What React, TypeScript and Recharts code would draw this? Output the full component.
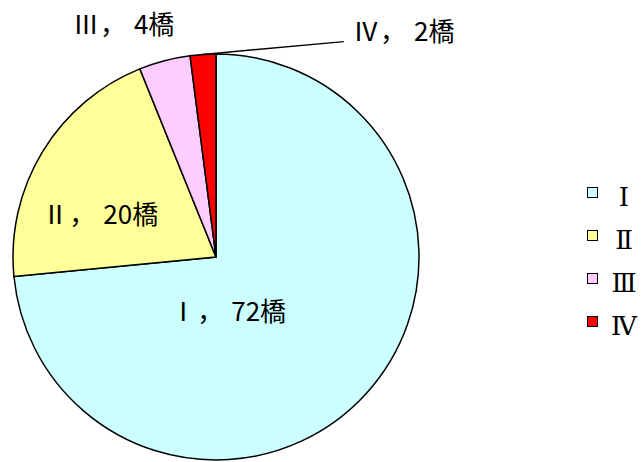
import React from 'react';
import { PieChart, Pie, Cell, Legend } from 'recharts';

// chart data
const categories = ['Ⅰ', 'Ⅱ', 'Ⅲ', 'Ⅳ'];
const bridgeCounts = [72, 20, 4, 2];
const sliceColors = ['#CCFFFF', '#FFFF99', '#FFCCFF', '#FF0000'];
const unitLabel = '橋';

const data = categories.map((name, i) => ({ name, value: bridgeCounts[i] }));

// label placement relative to pie centre, in units of the radius
const labelOffsets = [
  [0.06, 0.255],
  [-0.57, -0.222],
  [-0.455, -1.16],
  [0.925, -1.125],
];

const renderLabel = (props: any) => {
  const { cx, cy, outerRadius, midAngle, index } = props;
  const [fx, fy] = labelOffsets[index];
  const x = cx + fx * outerRadius;
  const y = cy + fy * outerRadius;
  let leader = null;
  if (index === 3) {
    const rad = (Math.PI / 180) * midAngle;
    const sx = cx + outerRadius * Math.cos(rad);
    const sy = cy - outerRadius * Math.sin(rad);
    const ex = x - 60;
    const ey = y + 13;
    leader = <polyline points={`${sx},${sy} ${ex},${ey}`} fill="none" stroke="#000" strokeWidth={1.5} />;
  }
  return (
    <g>
      {leader}
      <text
        x={x}
        y={y}
        textAnchor="middle"
        dominantBaseline="central"
        fontFamily='"Noto Sans CJK JP", sans-serif'
        fontSize={26}
        fill="#000"
      >
        <tspan>{categories[index]}</tspan>
        <tspan dx={1}>，</tspan>
        <tspan dx={8}>{`${bridgeCounts[index]}${unitLabel}`}</tspan>
      </text>
    </g>
  );
};

const renderLegend = (props: any) => {
  const { payload } = props;
  return (
    <div>
      {payload.map((entry: any, i: number) => (
        <div key={i} style={{ display: 'flex', alignItems: 'center', height: 43 }}>
          <div
            style={{
              width: 9,
              height: 9,
              background: entry.color,
              border: '1.5px solid #000',
            }}
          />
          <div
            style={{
              width: 28,
              marginLeft: 12,
              textAlign: 'center',
              fontFamily: '"DejaVu Serif", "Noto Sans CJK JP", serif',
              fontSize: 26,
              lineHeight: '26px',
              marginTop: 8,
            }}
          >
            {entry.value}
          </div>
        </div>
      ))}
    </div>
  );
};

export default function App() {
  return (
    <div style={{ position: 'absolute', left: 0, top: 0, background: '#fff' }}>
      <PieChart width={643} height={462} margin={{ top: 0, right: 0, bottom: 0, left: 0 }}>
        <Pie
          data={data}
          dataKey="value"
          nameKey="name"
          cx={216}
          cy={257}
          outerRadius={203}
          startAngle={90}
          endAngle={-270}
          stroke="#000"
          strokeWidth={1.5}
          label={renderLabel}
          labelLine={false}
          isAnimationActive={false}
        >
          {data.map((d, i) => (
            <Cell key={d.name} fill={sliceColors[i]} />
          ))}
        </Pie>
        <Legend
          layout="vertical"
          align="right"
          verticalAlign="top"
          content={renderLegend}
          wrapperStyle={{ left: 587, top: 171, width: 56 }}
        />
      </PieChart>
    </div>
  );
}
